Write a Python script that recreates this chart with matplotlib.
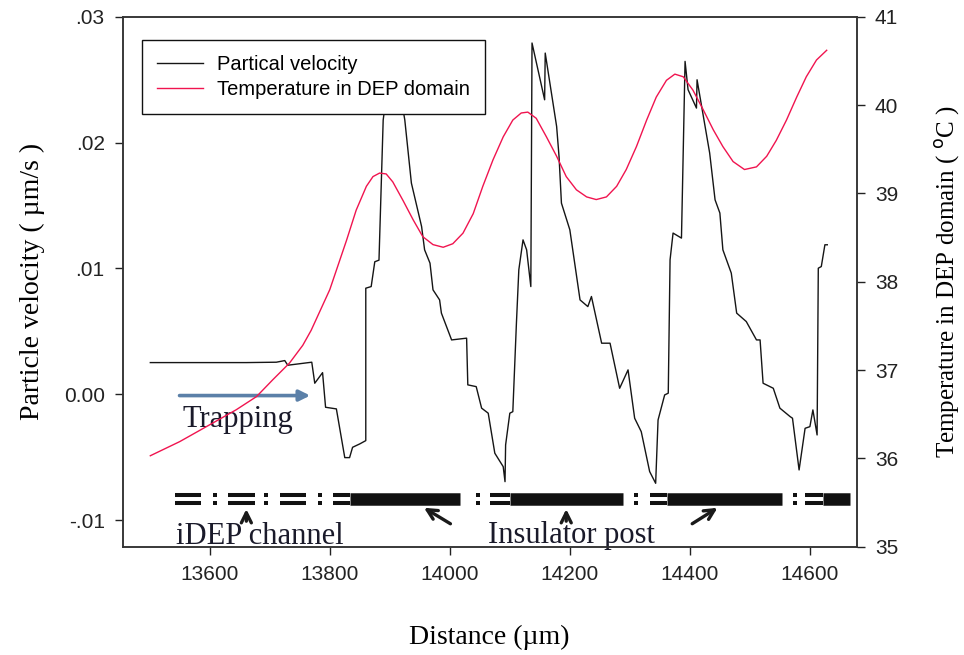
import matplotlib
matplotlib.use("Agg")
import matplotlib.pyplot as plt

# ---- values ----
dist_v = [13501, 13661, 13711, 13725, 13730, 13770, 13775, 13788, 13793, 13811,
          13825, 13833, 13838, 13850, 13860, 13860, 13869, 13875, 13882, 13889,
          13905, 13925, 13936, 13953, 13958, 13967, 13972, 13983, 13986, 14003,
          14028, 14030, 14044, 14053, 14064, 14075, 14089, 14092, 14093, 14100,
          14105, 14111, 14115, 14122, 14128, 14135, 14137, 14158, 14159, 14178,
          14182, 14186, 14200, 14217, 14230, 14236, 14253, 14267, 14283, 14297,
          14308, 14319, 14333, 14343, 14347, 14358, 14364, 14367, 14372, 14386,
          14392, 14397, 14411, 14412, 14433, 14442, 14450, 14455, 14469, 14478,
          14494, 14511, 14517, 14522, 14539, 14550, 14567, 14571, 14582, 14592,
          14600, 14605, 14612, 14614, 14619, 14625, 14629]
velocity = [0.00252, 0.00252, 0.00255, 0.00268, 0.00231, 0.00255, 0.00088, 0.00172, -0.00103, -0.00116,
            -0.00503, -0.00503, -0.00421, -0.00394, -0.00368, 0.00843, 0.00856, 0.01053, 0.01066, 0.02180,
            0.02750, 0.02180, 0.01678, 0.01333, 0.01148, 0.01042, 0.00830, 0.00750, 0.00645, 0.00432,
            0.00446, 0.00075, 0.00061, -0.00110, -0.00150, -0.00468, -0.00575, -0.00694, -0.00402, -0.00150,
            -0.00138, 0.00565, 0.00989, 0.01227, 0.01148, 0.00856, 0.02791, 0.02340, 0.02711, 0.02128,
            0.01890, 0.01519, 0.01307, 0.00750, 0.00697, 0.00777, 0.00406, 0.00406, 0.00048, 0.00194,
            -0.00190, -0.00297, -0.00614, -0.00707, -0.00204, -0.00005, 0.00009, 0.01068, 0.01281, 0.01241,
            0.02645, 0.02420, 0.02274, 0.02499, 0.01917, 0.01545, 0.01440, 0.01148, 0.00963, 0.00645,
            0.00578, 0.00432, 0.00432, 0.00088, 0.00048, -0.00110, -0.00177, -0.00190, -0.00601, -0.00270,
            -0.00257, -0.00124, -0.00323, 0.01002, 0.01015, 0.01188, 0.01188]

dist_t = [13501, 13550, 13605, 13644, 13678, 13705, 13733, 13755, 13769, 13800,
          13811, 13828, 13844, 13861, 13872, 13883, 13894, 13905, 13922, 13939,
          13955, 13972, 13989, 14005, 14022, 14039, 14055, 14072, 14089, 14105,
          14119, 14130, 14144, 14161, 14178, 14194, 14211, 14228, 14244, 14261,
          14278, 14294, 14311, 14328, 14344, 14361, 14375, 14389, 14405, 14422,
          14439, 14455, 14472, 14491, 14511, 14528, 14544, 14561, 14578, 14594,
          14611, 14628]
temperature = [36.03, 36.19, 36.40, 36.55, 36.70, 36.89, 37.08, 37.28, 37.45, 37.91,
               38.13, 38.47, 38.81, 39.08, 39.19, 39.23, 39.22, 39.13, 38.92, 38.70,
               38.51, 38.42, 38.39, 38.43, 38.55, 38.77, 39.08, 39.38, 39.64, 39.83,
               39.91, 39.92, 39.85, 39.64, 39.42, 39.19, 39.04, 38.96, 38.93, 38.96,
               39.08, 39.27, 39.53, 39.83, 40.09, 40.28, 40.35, 40.32, 40.17, 39.95,
               39.72, 39.53, 39.36, 39.27, 39.30, 39.42, 39.60, 39.83, 40.09, 40.32,
               40.51, 40.62]

x_ticks = [13600, 13800, 14000, 14200, 14400, 14600]
v_ticks = [-0.01, 0.0, 0.01, 0.02, 0.03]
v_tick_labels = ["-.01", "0.00", ".01", ".02", ".03"]
t_ticks = [35, 36, 37, 38, 39, 40, 41]

# channel sketch along the bottom (distance in um)
channel_walls = [(13542, 13586), (13630, 13675), (13717, 13761), (13805, 13833),
                 (14067, 14100), (14333, 14362), (14592, 14622)]
wall_gaps = [13608, 13694, 13783, 14047, 14311, 14575]
insulator_posts = [(13833, 14017), (14100, 14288), (14362, 14553), (14622, 14667)]

SERIF = "Liberation Serif"
plt.rcParams["font.family"] = ["Liberation Sans", "DejaVu Sans"]

fig = plt.figure(figsize=(9.64, 6.55), dpi=100)
ax = fig.add_axes([0.1273, 0.1653, 0.7614, 0.8092])
ax2 = ax.twinx()

ln_v, = ax.plot(dist_v, velocity, color="#151515", lw=1.0, zorder=3)
ln_t, = ax2.plot(dist_t, temperature, color="#f0144f", lw=1.0)

ax.set_xlim(13455, 14678)
ax.set_ylim(-0.01211, 0.030)
ax2.set_ylim(35, 41)
ax.set_xticks(x_ticks)
ax.set_yticks(v_ticks)
ax.set_yticklabels(v_tick_labels)
ax2.set_yticks(t_ticks)

for a in (ax, ax2):
    a.tick_params(direction="out", length=6, width=1, labelsize=15, colors="#222222", pad=7)
    for s in a.spines.values():
        s.set_linewidth(1.1)
        s.set_color("#333333")

ax.set_xlabel("Distance (\u00b5m)", fontsize=20, family=SERIF)
ax.xaxis.set_label_coords(0.5, -0.148)
ax.set_ylabel("Particle velocity ( \u00b5m/s )", fontsize=20, family=SERIF)
ax.yaxis.set_label_coords(-0.106, 0.5)
ax2.set_ylabel("Temperature in DEP domain ( $^{\\mathrm{o}}$C )", fontsize=18, family=SERIF)
ax2.yaxis.set_label_coords(1.104, 0.5)

# channel sketch
bar_y = -0.00833
off = 0.0003
for yy in (bar_y + off, bar_y - off):
    ax.hlines([yy] * len(channel_walls), [a for a, b in channel_walls], [b for a, b in channel_walls],
              color="#111111", lw=2.9, capstyle="butt")
    ax.plot(wall_gaps, [yy] * len(wall_gaps), "s", color="#111111", ms=2.8, mew=0)
ax.hlines([bar_y] * len(insulator_posts), [a for a, b in insulator_posts], [b for a, b in insulator_posts],
          color="#111111", lw=9, capstyle="butt")

arrow = dict(arrowstyle="->", lw=2.4, color="#1a1a1a", mutation_scale=18)
ax.annotate("", xy=(13661, -0.0089), xytext=(13661, -0.0103), arrowprops=arrow)
ax.annotate("", xy=(13953, -0.0089), xytext=(14005, -0.0104), arrowprops=arrow)
ax.annotate("", xy=(14194, -0.0089), xytext=(14194, -0.0103), arrowprops=arrow)
ax.annotate("", xy=(14450, -0.0089), xytext=(14400, -0.0104), arrowprops=arrow)
ax.text(13544, -0.0119, "iDEP channel", fontsize=22, family=SERIF, color="#1a1a2a", va="baseline")
ax.text(14063, -0.0118, "Insulator post", fontsize=22, family=SERIF, color="#1a1a2a", va="baseline")

ax.annotate("", xy=(13772, -0.0001), xytext=(13545, -0.0001),
            arrowprops=dict(arrowstyle="-|>", lw=2.6, color="#5b80a8", mutation_scale=16))
ax.text(13555, -0.0026, "Trapping", fontsize=22, family=SERIF, color="#1a1a2a", va="baseline")

leg = ax2.legend([ln_v, ln_t], ["Partical velocity", "Temperature in DEP domain"],
                 loc="upper left", bbox_to_anchor=(141.7 / 964, 1 - 40 / 655),
                 bbox_transform=fig.transFigure, borderaxespad=0, fontsize=14.5,
                 handlelength=2.3, handletextpad=0.7, borderpad=0.75, labelspacing=0.3,
                 fancybox=False, framealpha=1, edgecolor="#111111")
leg.get_frame().set_linewidth(1.0)

fig.savefig("out.png", dpi=100)
